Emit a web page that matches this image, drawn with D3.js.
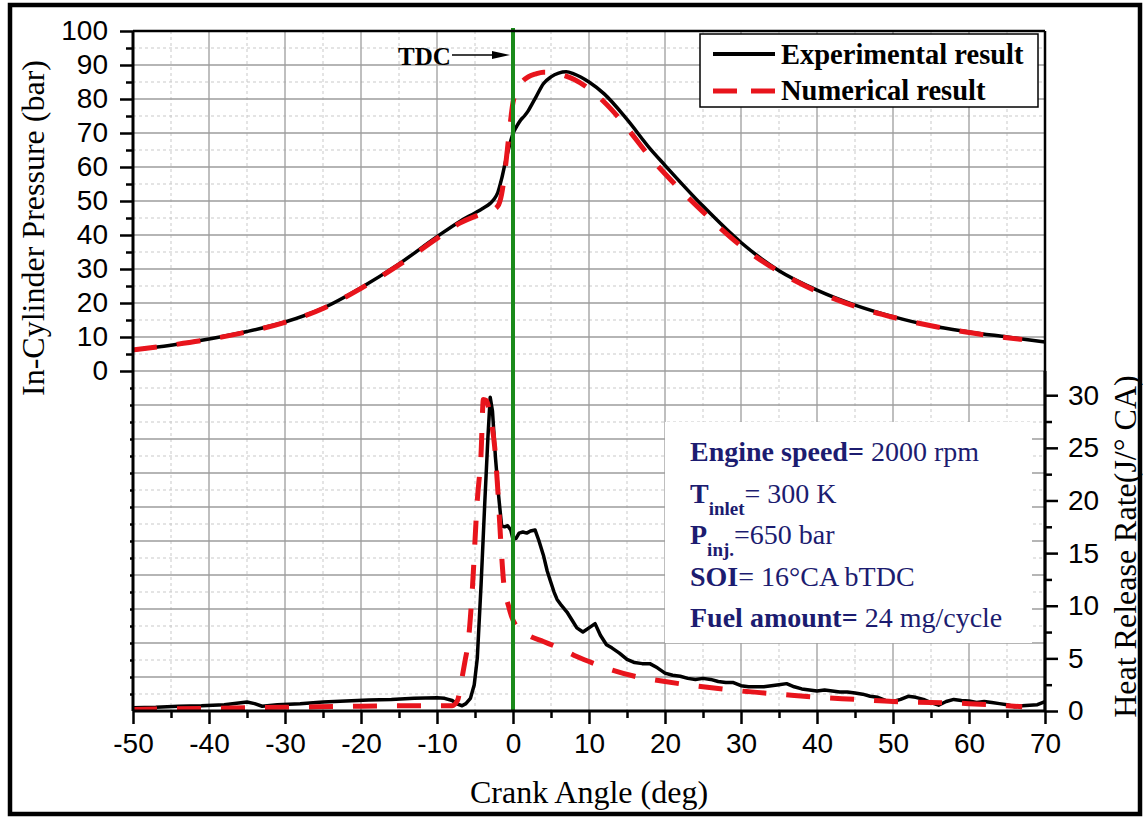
<!DOCTYPE html>
<html>
<head>
<meta charset="utf-8">
<script src="https://cdn.jsdelivr.net/npm/d3@7"></script>
<style>
  body { margin: 0; background: #fff; }
  svg { display: block; }
</style>
</head>
<body>
<svg id="chart" width="1143" height="818"></svg>
<script>
// ---- data ----
// in-cylinder pressure (bar) vs crank angle (deg)
const expPressureAngle = [-50, -45, -40, -35, -30, -25, -20, -15, -10, -7, -5, -4, -3, -2.5, -2, -1.5, -1, -0.5, 0, 0.5, 1, 1.5, 2, 2.5, 3, 4, 5, 6, 7, 8, 10, 12, 15, 18, 20, 25, 30, 35, 40, 45, 50, 55, 60, 65, 70];
const expPressure = [6.2, 7.6, 9.4, 11.6, 14.4, 18.5, 24.5, 31.5, 39.5, 44, 46.5, 47.8, 49.3, 50.5, 52.5, 56.5, 61.5, 66, 69.8, 72, 73.8, 75, 76.5, 78.5, 80.5, 84.5, 86.5, 87.6, 88, 87.4, 85, 81.5, 74, 65.5, 60.5, 48.5, 37.8, 29.5, 23.8, 19.4, 16, 13.3, 11.5, 10, 8.5];

const numPressureAngle = [-50, -45, -40, -35, -30, -25, -20, -15, -10, -7, -5, -4, -3, -2, -1.5, -1, -0.5, 0, 0.5, 1, 2, 3, 4, 5, 6, 8, 10, 13, 15, 18, 20, 25, 30, 35, 40, 45, 50, 55, 60, 65, 67];
const numPressure = [6.2, 7.6, 9.3, 11.5, 14.3, 18.4, 24.3, 31.2, 39, 43.5, 45.5, 46.3, 47, 48.5, 52, 60, 70, 79, 82.5, 84.5, 86.5, 87.4, 87.9, 87.9, 87.4, 85.8, 83, 76.8, 71.5, 63, 58, 46.8, 36.8, 29.2, 23.4, 19, 15.8, 13.3, 11.3, 9.8, 9.3];

// heat release rate (J/deg CA) vs crank angle (deg)
const expHrrAngle = [-50, -47, -44, -41, -38, -35, -34, -33, -31, -28, -25, -22, -19, -16, -13, -10, -9, -8, -7.3, -6.7, -6.2, -5.6, -5.1, -4.7, -4.2, -3.7, -3.3, -3.0, -2.7, -2.3, -1.9, -1.5, -1.1, -0.7, -0.3, 0, 0.4, 0.8, 1.3, 1.8, 2.3, 2.9, 3.4, 4, 4.5, 4.9, 5.4, 5.8, 6.4, 7.1, 7.8, 8.4, 9.2, 10, 10.8, 11.5, 12.3, 13, 14, 15, 16, 17, 18, 19, 20, 21, 22, 23, 24, 25, 26, 27, 28, 29, 30, 31, 32, 33, 34, 35, 36, 37, 38, 39, 40, 41, 42, 43, 44, 45, 46, 47, 48, 49, 50, 51, 52, 53, 54, 55, 56, 57, 58, 59, 60, 61, 62, 63, 64, 65, 66, 67, 68, 69, 70];
const expHrr = [0.3, 0.35, 0.45, 0.5, 0.6, 0.85, 0.7, 0.45, 0.6, 0.7, 0.85, 0.95, 1.05, 1.1, 1.2, 1.25, 1.2, 1.0, 0.65, 0.5, 0.7, 1.2, 2.5, 5, 12, 20, 26, 29.8, 28.5, 24, 20.5, 17.6, 17.5, 17.6, 17.2, 16.3, 16.4, 16.9, 17, 16.9, 17.1, 17.2, 16.2, 14.8, 13.3, 12.4, 11.3, 10.6, 10, 9.4, 8.6, 7.9, 7.5, 7.9, 8.3, 7.2, 6.3, 6.0, 5.5, 4.9, 4.6, 4.5, 4.5, 4.1, 3.6, 3.4, 3.3, 3.1, 3.0, 3.1, 3.0, 2.8, 2.7, 2.7, 2.4, 2.3, 2.3, 2.3, 2.4, 2.5, 2.6, 2.3, 2.1, 2.0, 1.9, 2.0, 1.9, 1.8, 1.8, 1.7, 1.6, 1.4, 1.3, 1.0, 0.9, 1.1, 1.4, 1.3, 1.1, 0.8, 0.55, 0.9, 1.1, 1.0, 0.95, 0.8, 0.9, 0.8, 0.7, 0.6, 0.4, 0.5, 0.55, 0.6, 0.9];

const numHrrAngle = [-50, -40, -30, -20, -12, -8, -7.3, -6.8, -6.3, -5.9, -5.4, -4.7, -4.2, -3.9, -3.5, -3, -2.4, -2, -1.6, -1.2, -0.6, -0.2, 0.5, 2, 4, 6, 8, 10, 13, 16, 20, 25, 30, 35, 40, 45, 50, 55, 60, 65, 67];
const numHrr = [0.15, 0.25, 0.35, 0.45, 0.5, 0.5, 1.0, 2.8, 4.8, 6.5, 11, 20, 24.5, 29.6, 29.5, 28, 25, 21, 16, 12, 10, 9, 8, 7.2, 6.6, 6.0, 5.3, 4.7, 3.9, 3.3, 2.8, 2.3, 1.9, 1.6, 1.3, 1.1, 0.9, 0.8, 0.7, 0.5, 0.4];

const xTicks = d3.range(-50, 71, 10);
const pressureTicks = d3.range(0, 101, 10);
const hrrTicks = d3.range(0, 31, 5);

const infoLines = [
  [["Engine speed=", "b"], [" 2000 rpm", "n"]],
  [["T", "b"], ["inlet", "sub"], ["= 300 K", "n"]],
  [["P", "b"], ["inj.", "sub"], ["=650 bar", "n"]],
  [["SOI", "b"], ["= 16°CA bTDC", "n"]],
  [["Fuel amount=", "b"], [" 24 mg/cycle", "n"]]
];

// ---- drawing ----
const svg = d3.select("#chart");
const sans = "'Liberation Sans', Arial, sans-serif";
const serif = "'Liberation Serif', 'Times New Roman', serif";
const navy = "#1c1c70";
const plain = (d) => String(d); // keep ascii hyphen like the original

const x = d3.scaleLinear().domain([-50, 70]).range([133, 1045]);
const yP = d3.scaleLinear().domain([-100, 100]).range([711, 31]);
const yH = d3.scaleLinear().domain([0, 32.3]).range([711, 371]);

svg.append("rect").attr("width", 1143).attr("height", 818).attr("fill", "#fff");

// outer frame
svg.append("rect")
  .attr("x", 10).attr("y", 5)
  .attr("width", 1130).attr("height", 809)
  .attr("fill", "none").attr("stroke", "#000").attr("stroke-width", 4.5);

// grid
const grid = svg.append("g");
const [x0, x1] = x.range();
const [yb, yt] = yP.range();

grid.selectAll(".vminor")
  .data(d3.range(-45, 70, 10))
  .join("line")
  .attr("x1", (d) => x(d)).attr("x2", (d) => x(d))
  .attr("y1", yt).attr("y2", yb)
  .attr("stroke", "#c9c9c9").attr("stroke-width", 1).attr("stroke-dasharray", "3,3");

grid.selectAll(".hminor")
  .data(d3.range(-95, 100, 10))
  .join("line")
  .attr("x1", x0).attr("x2", x1)
  .attr("y1", (d) => yP(d)).attr("y2", (d) => yP(d))
  .attr("stroke", "#c9c9c9").attr("stroke-width", 1).attr("stroke-dasharray", "3,3");

grid.selectAll(".vmajor")
  .data(d3.range(-40, 70, 10))
  .join("line")
  .attr("x1", (d) => x(d)).attr("x2", (d) => x(d))
  .attr("y1", yt).attr("y2", yb)
  .attr("stroke", "#9d9d9d").attr("stroke-width", 1.3);

grid.selectAll(".hmajor")
  .data(d3.range(-90, 100, 10))
  .join("line")
  .attr("x1", x0).attr("x2", x1)
  .attr("y1", (d) => yP(d)).attr("y2", (d) => yP(d))
  .attr("stroke", "#9d9d9d").attr("stroke-width", 1.3);

// white box behind the info text
svg.append("rect")
  .attr("x", 665).attr("y", 422)
  .attr("width", 367).attr("height", 221)
  .attr("fill", "#fff");

// curves
const lineP = (angles) => d3.line()
  .x((d, i) => x(angles[i]))
  .y((d) => yP(d))
  .curve(d3.curveMonotoneX);

const lineH = (angles) => d3.line()
  .x((d, i) => x(angles[i]))
  .y((d) => yH(d));

const curves = svg.append("g").attr("fill", "none");

curves.append("path")
  .datum(expPressure)
  .attr("d", lineP(expPressureAngle))
  .attr("stroke", "#000").attr("stroke-width", 3.5)
  .attr("stroke-linejoin", "round");

curves.append("path")
  .datum(expHrr)
  .attr("d", lineH(expHrrAngle))
  .attr("stroke", "#000").attr("stroke-width", 3.5)
  .attr("stroke-linejoin", "round");

curves.append("path")
  .datum(numPressure)
  .attr("d", lineP(numPressureAngle))
  .attr("stroke", "#e8141c").attr("stroke-width", 5)
  .attr("stroke-dasharray", "24,20");

curves.append("path")
  .datum(numHrr)
  .attr("d", lineH(numHrrAngle).curve(d3.curveMonotoneX))
  .attr("stroke", "#e8141c").attr("stroke-width", 5)
  .attr("stroke-dasharray", "24,20");

// TDC line
svg.append("line")
  .attr("x1", x(0)).attr("x2", x(0))
  .attr("y1", yt - 3).attr("y2", yb)
  .attr("stroke", "#1a8a1a").attr("stroke-width", 4);

// frame lines of the plot
svg.append("line").attr("x1", x0).attr("x2", x1).attr("y1", yt).attr("y2", yt)
  .attr("stroke", "#000").attr("stroke-width", 2.5);
svg.append("line").attr("x1", x1).attr("x2", x1).attr("y1", yt).attr("y2", yb)
  .attr("stroke", "#000").attr("stroke-width", 2.5);

// axes
const styleAxis = (g, labelSize) => {
  g.select(".domain").remove();
  g.selectAll(".tick line").attr("stroke", "#000").attr("stroke-width", 2.5);
  g.selectAll(".tick text")
    .attr("fill", "#000")
    .style("font-family", sans)
    .style("font-size", labelSize + "px");
};

// left: pressure
svg.append("g").attr("transform", `translate(${x0},0)`)
  .call(d3.axisLeft(yP).tickValues(pressureTicks).tickFormat(plain).tickSize(13).tickPadding(12))
  .call(styleAxis, 28);
svg.append("g").attr("transform", `translate(${x0},0)`)
  .call(d3.axisLeft(yP).tickValues(d3.range(5, 100, 10)).tickSize(7).tickFormat(""))
  .call(styleAxis, 28);
svg.append("g").attr("transform", `translate(${x0},0)`)
  .call(d3.axisLeft(yP).tickValues(d3.range(-95, 0, 5)).tickSize(3).tickFormat(""))
  .call(styleAxis, 28);

// bottom: crank angle
svg.append("g").attr("transform", `translate(0,${yb})`)
  .call(d3.axisBottom(x).tickValues(xTicks).tickFormat(plain).tickSize(13).tickPadding(9))
  .call(styleAxis, 28);
svg.append("g").attr("transform", `translate(0,${yb})`)
  .call(d3.axisBottom(x).tickValues(d3.range(-45, 70, 10)).tickSize(7).tickFormat(""))
  .call(styleAxis, 28);

// right: heat release rate
svg.append("g").attr("transform", `translate(${x1},0)`)
  .call(d3.axisRight(yH).tickValues(hrrTicks).tickFormat(plain).tickSize(13).tickPadding(10))
  .call(styleAxis, 28);
svg.append("g").attr("transform", `translate(${x1},0)`)
  .call(d3.axisRight(yH).tickValues(d3.range(2.5, 30, 5)).tickSize(7).tickFormat(""))
  .call(styleAxis, 28);

svg.append("line").attr("x1", x0).attr("x2", x0).attr("y1", yt).attr("y2", yb)
  .attr("stroke", "#000").attr("stroke-width", 3);
svg.append("line").attr("x1", x0).attr("x2", x1).attr("y1", yb).attr("y2", yb)
  .attr("stroke", "#000").attr("stroke-width", 3);
svg.append("line").attr("x1", x1).attr("x2", x1).attr("y1", yH.range()[1]).attr("y2", yb)
  .attr("stroke", "#000").attr("stroke-width", 3);

// axis titles
svg.append("text")
  .attr("transform", `translate(44,${yP(50) + 27}) rotate(-90)`)
  .attr("text-anchor", "middle")
  .style("font-family", serif).style("font-size", "32px")
  .text("In-Cylinder Pressure (bar)");

svg.append("text")
  .attr("transform", `translate(1136,${yH(16) + 4}) rotate(-90)`)
  .attr("text-anchor", "middle")
  .style("font-family", serif).style("font-size", "32px")
  .text("Heat Release Rate(J/° CA)");

svg.append("text")
  .attr("x", (x0 + x1) / 2).attr("y", 803)
  .attr("text-anchor", "middle")
  .style("font-family", serif).style("font-size", "32px")
  .text("Crank Angle (deg)");

// TDC annotation
svg.append("text")
  .attr("x", 398).attr("y", 65)
  .style("font-family", serif).style("font-size", "25px").style("font-weight", "bold")
  .text("TDC");
svg.append("line")
  .attr("x1", 452).attr("x2", x(0) - 18)
  .attr("y1", 55).attr("y2", 55)
  .attr("stroke", "#000").attr("stroke-width", 1.5);
svg.append("path")
  .attr("d", `M${x(0) - 21},51 L${x(0) - 3},55 L${x(0) - 21},59 Z`)
  .attr("fill", "#000");

// legend
const legend = svg.append("g");
legend.append("rect")
  .attr("x", 700).attr("y", 34).attr("width", 338).attr("height", 73)
  .attr("fill", "#fff").attr("stroke", "#000").attr("stroke-width", 1.5);
legend.append("line")
  .attr("x1", 713).attr("x2", 775).attr("y1", 54).attr("y2", 54)
  .attr("stroke", "#000").attr("stroke-width", 4);
legend.append("line")
  .attr("x1", 713).attr("x2", 775).attr("y1", 91).attr("y2", 91)
  .attr("stroke", "#e8141c").attr("stroke-width", 5).attr("stroke-dasharray", "24,14");
legend.append("text")
  .attr("x", 781).attr("y", 64)
  .style("font-family", serif).style("font-size", "28.5px").style("font-weight", "bold")
  .text("Experimental result");
legend.append("text")
  .attr("x", 781).attr("y", 100)
  .style("font-family", serif).style("font-size", "28.5px").style("font-weight", "bold")
  .text("Numerical result");

// operating conditions
const info = svg.append("g")
  .style("font-family", serif).style("font-size", "28px").attr("fill", navy);
infoLines.forEach((parts, i) => {
  const t = info.append("text").attr("x", 690).attr("y", 461 + i * 41.5);
  let shifted = false;
  parts.forEach(([txt, kind]) => {
    const s = t.append("tspan").text(txt);
    if (kind === "b") s.style("font-weight", "bold");
    if (kind === "sub") {
      s.style("font-weight", "bold").style("font-size", "19px").attr("dy", 12);
      shifted = true;
    } else if (shifted) {
      s.attr("dy", -12);
      shifted = false;
    }
  });
});
</script>
</body>
</html>
